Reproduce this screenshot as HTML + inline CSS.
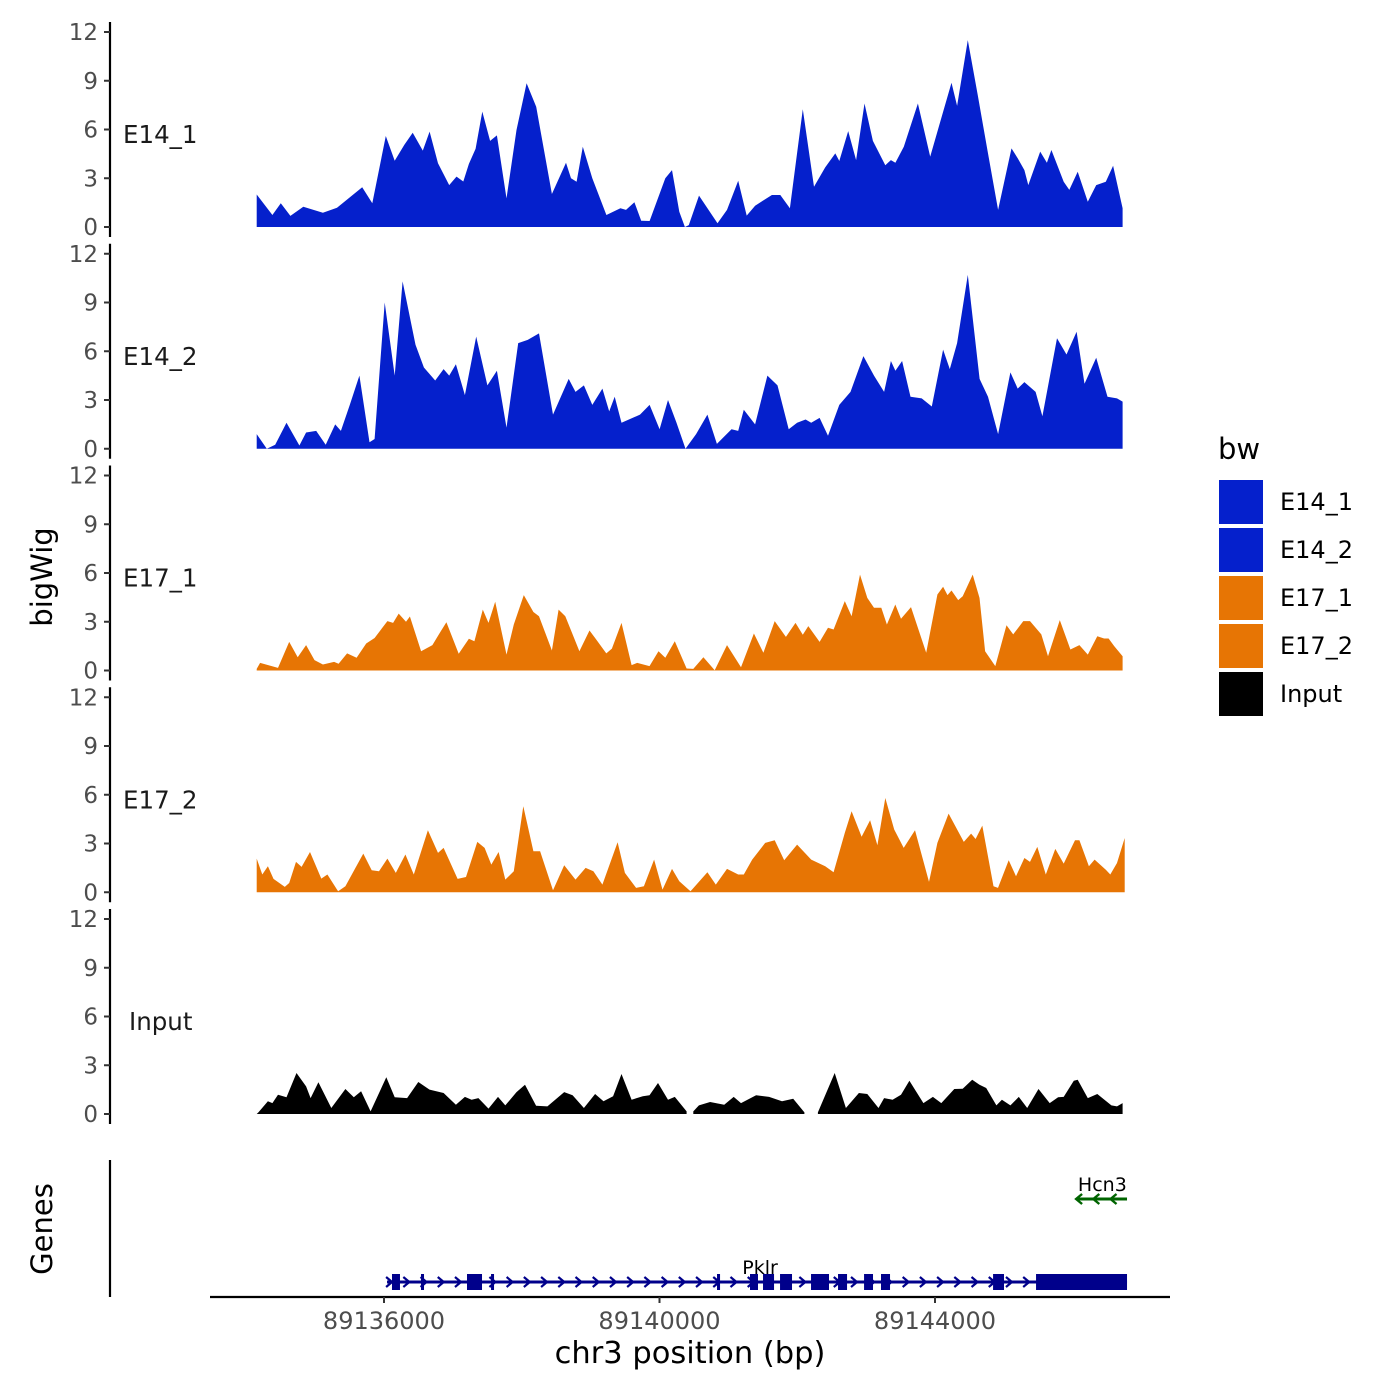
<!DOCTYPE html>
<html><head><meta charset="utf-8"><style>
body{margin:0;background:#fff;}
svg{display:block;font-family:"DejaVu Sans","Liberation Sans",sans-serif;}
</style></head><body>
<svg id="chart" width="1400" height="1400" viewBox="0 0 1400 1400"></svg>
<script>
const xTicks = [89136000, 89140000, 89144000];
const yTicks = [0, 3, 6, 9, 12];
const origin = 89134054;
const trackNames = ["E14_1", "E14_2", "E17_1", "E17_2", "Input"];
const trackColors = ["#0520CC", "#0520CC", "#E77504", "#E77504", "#000000"];

const pos1 = [98,326,448,587,774,1059,1263,1630,1776,1972,2102,2241,2363,2510,2608,2730,2893,2999,3097,3178,3276,3373,3487,3585,3724,3870,4017,4156,4384,4588,4661,4743,4832,4971,5175,5378,5460,5582,5680,5802,6030,6128,6234,6315,6372,6519,6788,6926,7089,7212,7334,7578,7700,7839,8026,8189,8352,8499,8556,8686,8800,8923,9045,9224,9306,9371,9493,9697,9876,10186,10267,10422,10568,10715,10862,11057,11147,11244,11301,11473,11570,11636,11815,11896,12018,12165,12287,12426,12532,12670];
const val1 = [2.0,0.74,1.46,0.68,1.25,0.88,1.19,2.44,1.46,5.6,4.08,5.05,5.8,4.7,5.87,3.92,2.58,3.1,2.8,3.88,4.82,7.1,5.3,5.64,1.76,5.97,8.84,7.4,2.03,3.96,3.0,2.79,4.94,3.0,0.74,1.15,1.05,1.52,0.39,0.37,3.0,3.5,0.94,0,0.12,1.93,0.23,1.05,2.85,0.7,1.31,1.97,1.97,1.15,7.24,2.48,3.67,4.53,4.06,5.9,4.12,7.6,5.3,3.8,4.12,3.96,4.94,7.6,4.33,8.88,7.45,11.5,8.1,4.53,1.05,4.84,4.23,3.5,2.58,4.64,3.96,4.74,2.79,2.28,3.4,1.56,2.58,2.79,3.77,1.15];

const pos2 = [98,244,367,530,717,815,961,1100,1238,1320,1450,1589,1735,1809,1956,2102,2216,2404,2526,2689,2811,2893,2990,3121,3284,3447,3585,3724,3895,4033,4196,4400,4628,4726,4848,4971,5117,5215,5296,5394,5663,5802,5948,6070,6193,6323,6478,6641,6779,6991,7089,7170,7334,7512,7659,7822,7944,8067,8148,8271,8392,8556,8719,8906,9061,9207,9306,9371,9468,9590,9753,9900,10063,10161,10267,10422,10593,10715,10862,11041,11147,11244,11407,11505,11717,11855,12002,12116,12287,12450,12589,12670];
const val2 = [0.9,0.0,0.25,1.6,0.2,1.0,1.1,0.25,1.5,1.1,2.7,4.5,0.4,0.6,9.0,4.5,10.3,6.4,5.0,4.2,4.9,4.5,5.2,3.3,6.9,3.9,4.8,1.3,6.5,6.7,7.1,2.1,4.3,3.5,3.9,2.7,3.7,2.3,3.2,1.6,2.1,2.7,1.2,3.0,1.6,0.0,0.9,2.1,0.3,1.2,1.1,2.4,1.5,4.5,3.9,1.2,1.6,1.8,1.6,1.9,0.8,2.7,3.5,5.7,4.5,3.5,5.4,4.8,5.4,3.2,3.1,2.6,6.1,4.9,6.5,10.7,4.3,3.2,0.9,4.7,3.7,4.1,3.5,2.0,6.8,5.8,7.2,4.0,5.6,3.2,3.1,2.9];

const pos3 = [98,147,407,570,693,815,937,1059,1222,1287,1410,1548,1687,1809,1996,2078,2159,2265,2322,2485,2648,2770,2852,3031,3178,3259,3381,3463,3561,3724,3830,3976,4115,4196,4384,4481,4579,4783,4930,5011,5174,5255,5394,5541,5622,5801,5932,6030,6168,6339,6437,6584,6747,6926,7130,7317,7455,7618,7781,7920,8026,8107,8270,8392,8474,8637,8735,8857,8963,9061,9166,9248,9370,9452,9598,9818,9981,10063,10128,10185,10283,10348,10494,10592,10674,10821,10984,11081,11228,11326,11489,11586,11758,11912,12043,12165,12303,12401,12466,12548,12670];
const val3 = [0.1,0.47,0.16,1.76,0.82,1.56,0.64,0.37,0.53,0.41,1.05,0.78,1.66,2.0,3.04,2.93,3.5,3.0,3.32,1.19,1.56,2.42,2.97,1.03,1.95,1.8,3.75,2.93,4.23,0.98,2.83,4.64,3.6,3.34,1.23,3.75,3.34,1.19,2.46,2.0,1.05,1.35,2.93,0.33,0.47,0.27,1.19,0.78,1.8,0.12,0.1,0.82,0.02,1.56,0.2,2.28,1.09,3.04,2.07,2.93,2.2,2.73,1.76,2.63,2.52,4.27,3.34,5.9,4.47,3.86,3.86,2.83,4.06,3.18,3.9,1.09,4.68,5.15,4.64,4.92,4.33,4.57,5.9,4.47,1.19,0.27,2.79,2.22,3.04,3.04,2.22,0.88,3.1,1.29,1.56,0.98,2.11,1.97,1.97,1.5,0.88];

const pos4 = [98,179,261,342,505,570,668,750,872,1035,1124,1279,1385,1524,1646,1768,1874,1996,2118,2257,2379,2583,2730,2811,3015,3137,3300,3406,3504,3610,3707,3830,3968,4115,4213,4400,4563,4726,4873,4987,5117,5337,5443,5606,5720,5867,5989,6127,6233,6396,6641,6763,6926,7089,7170,7292,7480,7618,7757,7944,8148,8352,8474,8637,8735,8881,9004,9109,9224,9354,9492,9655,9859,9981,10144,10364,10470,10535,10633,10796,10861,11016,11122,11244,11326,11431,11554,11692,11815,11978,12043,12181,12263,12426,12491,12589,12700];
const val4 = [2.07,1.09,1.6,0.82,0.33,0.57,1.87,1.56,2.48,0.84,1.09,0.06,0.37,1.44,2.38,1.35,1.29,2.07,1.19,2.32,1.09,3.82,2.42,2.73,0.82,0.94,3.1,2.73,1.7,2.48,0.78,1.29,5.29,2.52,2.52,0.12,1.66,0.78,1.5,1.29,0.47,3.08,1.19,0.27,0.37,2.01,0.16,1.44,0.68,0.06,1.23,0.47,1.44,1.09,1.09,2.01,3.04,3.2,1.97,2.93,2.01,1.6,1.23,3.65,4.98,3.41,4.43,2.89,5.8,3.86,2.73,3.82,0.64,3.04,4.84,3.1,3.61,3.28,4.1,0.37,0.27,1.97,0.98,2.11,1.87,2.79,1.09,2.67,1.76,3.2,3.2,1.6,2.01,1.39,1.09,1.8,3.34];

const pos5 = [98,122,261,326,407,530,676,815,880,994,1181,1385,1507,1613,1752,1980,2102,2281,2444,2607,2811,2990,3121,3218,3316,3463,3601,3707,3870,3993,4155,4318,4563,4685,4848,5011,5133,5272,5394,5541,5704,5801,5924,6070,6168,6339,6350,6420,6437,6518,6681,6885,7024,7130,7349,7537,7724,7887,8050,8060,8230,8246,8490,8653,8841,8963,9126,9207,9330,9452,9574,9778,9916,10038,10226,10348,10486,10592,10690,10837,10918,11041,11163,11285,11448,11611,11733,11815,11961,12018,12165,12303,12507,12589,12670];
const val5 = [0,0.1,0.78,0.67,1.19,1.03,2.52,1.7,0.98,1.95,0.37,1.54,1.03,1.4,0.16,2.26,1.03,0.98,1.97,1.5,1.29,0.57,1.05,0.88,0.98,0.33,1.05,0.53,1.35,1.8,0.51,0.47,1.35,1.15,0.37,1.23,0.78,1.09,2.46,0.88,1.09,1.15,1.91,0.88,1.05,0.16,null,null,0.16,0.53,0.74,0.57,1.05,0.67,1.15,1.05,0.78,0.94,0.1,null,null,0.1,2.52,0.37,1.29,1.23,0.37,0.98,0.88,1.19,2.05,0.67,1.05,0.67,1.54,1.56,2.11,1.8,1.6,0.53,0.88,0.53,1.05,0.37,1.54,0.67,1.03,1.05,2.05,2.11,0.98,1.23,0.53,0.47,0.67];

const trackPos = [pos1, pos2, pos3, pos4, pos5];
const trackVals = [val1, val2, val3, val4, val5];

const pklrExons = [[89136116,89136232],[89136537,89136581],[89137205,89137423],[89137554,89137597],[89140835,89140879],[89141314,89141430],[89141503,89141663],[89141750,89141924],[89142200,89142461],[89142592,89142723],[89142970,89143100],[89143216,89143347],[89144843,89145002],[89145467,89146788]];
const pklrSpan = [89136044, 89146788];
const hcn3Span = [89146062, 89146788];

const NS = "http://www.w3.org/2000/svg";
const svg = document.getElementById("chart");
function mk(tag, attrs, parent) {
  const e = document.createElementNS(NS, tag);
  for (const k in attrs) e.setAttribute(k, attrs[k]);
  (parent || svg).appendChild(e);
  return e;
}
const xScale = bp => 384 + (bp - 89136000) * (275.5 / 4000);
const panelBase = i => 227 + i * 221.75;
const yScale = (i, v) => panelBase(i) - v * 16.25;

for (let i = 0; i < 5; i++) {
  const g = mk("g", {});
  
  
  const b = panelBase(i);
  const ax = mk("line", {x1:110, x2:110, y1:b-205, y2:b+10, stroke:"#000", "stroke-width":2.2}, g);
  
  
  yTicks.forEach(t => {
    const y = yScale(i, t);
    const tk = mk("line", {x1:104, x2:110, y1:y, y2:y, stroke:"#333", "stroke-width":2}, g);
    
    
    const tl = mk("text", {x:98, y:y+8, "text-anchor":"end", "font-size":23, fill:"#4d4d4d"}, g);
    tl.textContent = t;
    
    
  });
  const lab = mk("text", {x: i===4 ? 129 : 123, y: b - 84, "font-size":24.5, fill:"#1a1a1a"}, g);
  lab.textContent = trackNames[i];
  
  
  const P = trackPos[i], V = trackVals[i];
  let seg = [];
  const flush = () => {
    if (seg.length > 1) {
      let d = "M" + xScale(origin + seg[0][0]).toFixed(1) + "," + b;
      seg.forEach(p => d += " L" + xScale(origin + p[0]).toFixed(1) + "," + yScale(i, p[1]).toFixed(1));
      d += " L" + xScale(origin + seg[seg.length-1][0]).toFixed(1) + "," + b + " Z";
      const a = mk("path", {d: d, fill: trackColors[i]}, g);
      
      
    }
    seg = [];
  };
  for (let k = 0; k < P.length; k++) {
    if (V[k] === null) flush(); else seg.push([P[k], V[k]]);
  }
  flush();
}

const yt = mk("text", {x:0, y:0, transform:"translate(52,577) rotate(-90)", "text-anchor":"middle", "font-size":29, fill:"#000"});
yt.textContent = "bigWig";


const gt = mk("text", {x:0, y:0, transform:"translate(52,1229) rotate(-90)", "text-anchor":"middle", "font-size":29, fill:"#000"});
gt.textContent = "Genes";



const gax = mk("line", {x1:110, x2:110, y1:1160, y2:1297, stroke:"#000", "stroke-width":2.2});


const gg = mk("g", {});


const gy = 1282;
mk("line", {x1:xScale(pklrSpan[0]), x2:xScale(pklrSpan[1]), y1:gy, y2:gy, stroke:"#00008B", "stroke-width":3}, gg);
for (let bp = pklrSpan[0] + 30; bp < pklrSpan[1]; bp += 250) {
  const x = xScale(bp);
  mk("path", {d:`M${x-3},${gy-5} L${x+3},${gy} L${x-3},${gy+5}`, fill:"none", stroke:"#00008B", "stroke-width":2.2}, gg);
}
pklrExons.forEach(e => {
  const x1 = xScale(e[0]), x2 = xScale(e[1]);
  const r = mk("rect", {x:x1, y:gy-8, width:Math.max(3, x2-x1), height:16, fill:"#00008B"}, gg);
  
  
});
const pl = mk("text", {x:xScale(89141460), y:1274, "text-anchor":"middle", "font-size":19, fill:"#000"}, gg);
pl.textContent = "Pklr";
const hg = mk("g", {});


const hy = 1199;
mk("line", {x1:xScale(hcn3Span[0]), x2:xScale(hcn3Span[1]), y1:hy, y2:hy, stroke:"#006400", "stroke-width":3}, hg);
for (let bp = hcn3Span[0] + 30; bp < hcn3Span[1]; bp += 250) {
  const x = xScale(bp);
  mk("path", {d:`M${x+3},${hy-5} L${x-3},${hy} L${x+3},${hy+5}`, fill:"none", stroke:"#006400", "stroke-width":2.4}, hg);
}
const hl = mk("text", {x:xScale(89146430), y:1191, "text-anchor":"middle", "font-size":19, fill:"#000"}, hg);
hl.textContent = "Hcn3";

const xl = mk("line", {x1:210, x2:1170, y1:1297, y2:1297, stroke:"#000", "stroke-width":2.2});


xTicks.forEach(t => {
  const x = xScale(t);
  const tk = mk("line", {x1:x, x2:x, y1:1297, y2:1303, stroke:"#333", "stroke-width":2});
  
  
  const tl = mk("text", {x:x, y:1329, "text-anchor":"middle", "font-size":24, fill:"#4d4d4d"});
  tl.textContent = t;
  
  
});
const xt = mk("text", {x:690, y:1363, "text-anchor":"middle", "font-size":30.5, fill:"#000"});
xt.textContent = "chr3 position (bp)";



const lt = mk("text", {x:1218, y:459, "font-size":29, fill:"#000"});
lt.textContent = "bw";


trackNames.forEach((n, i) => {
  const lg = mk("g", {});
  
  
  mk("rect", {x:1219, y:480 + i*48, width:44, height:44, fill:trackColors[i]}, lg);
  const t = mk("text", {x:1280, y:510 + i*48, "font-size":24, fill:"#000"}, lg);
  t.textContent = n;
});
</script>
</body></html>
